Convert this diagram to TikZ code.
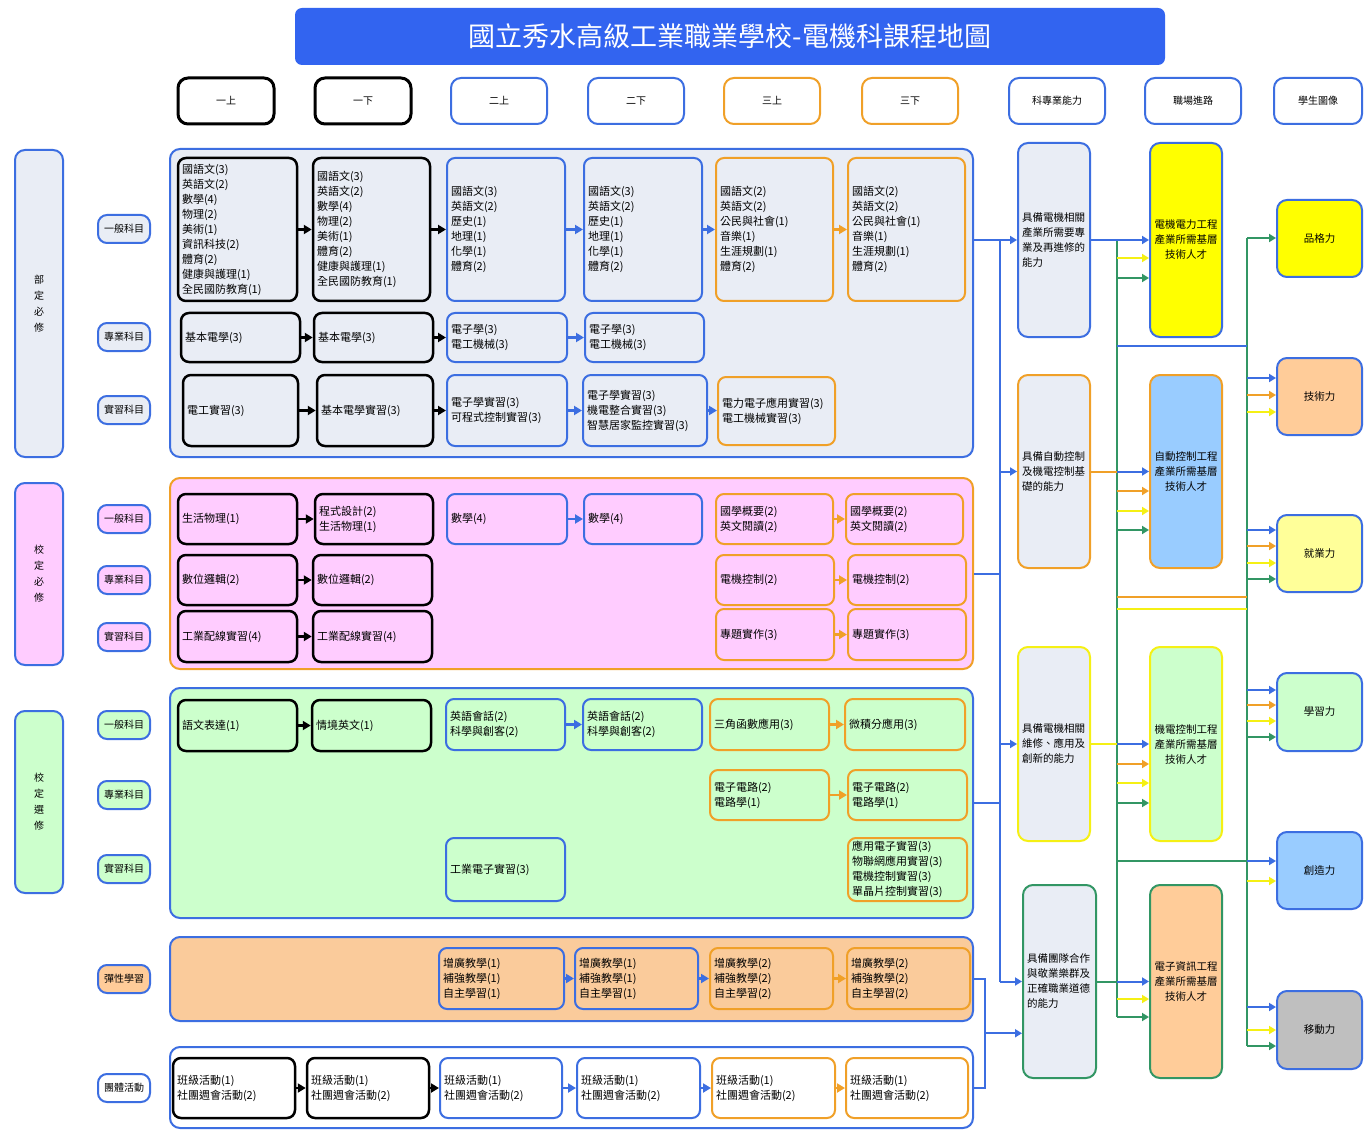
\documentclass[tikz,border=0pt]{standalone}
\usepackage{fontspec}
\setmainfont{Noto Sans CJK TC}
\usetikzlibrary{arrows.meta,calc}
\definecolor{cblue}{RGB}{60,110,225}
\definecolor{ctitle}{RGB}{50,100,240}
\definecolor{corange}{RGB}{240,160,40}
\definecolor{cyellow}{RGB}{245,240,20}
\definecolor{cgreen}{RGB}{50,150,100}
\definecolor{fgray}{RGB}{233,237,245}
\definecolor{fpink}{RGB}{255,204,255}
\definecolor{fgreen}{RGB}{204,255,204}
\definecolor{forange}{RGB}{250,203,155}
\definecolor{forangeb}{RGB}{255,204,153}
\definecolor{fyellow}{RGB}{255,255,0}
\definecolor{flyellow}{RGB}{255,255,153}
\definecolor{flblue}{RGB}{153,204,255}
\definecolor{fgrey}{RGB}{191,191,191}
\newcommand\myfs[2]{\fontsize{#1}{#2}\selectfont}
\newcommand\mkbox[7]{%
 \pgfmathsetmacro\myW{#5-#3}\pgfmathsetmacro\myH{#6-#4}%
 \pgfmathsetmacro\myX{(#3+#5)/2}\pgfmathsetmacro\myY{(#4+#6)/2}%
 \node[#2, minimum width=\myW pt, minimum height=\myH pt] (#1) at (\myX,\myY) {#7};}
\newcommand\mkcrs[7]{%
 \pgfmathsetmacro\myW{#5-#3-8}\pgfmathsetmacro\myH{#6-#4}%
 \pgfmathsetmacro\myX{(#3+#5)/2}\pgfmathsetmacro\myY{(#4+#6)/2}%
 \node[#2, text width=\myW pt, minimum height=\myH pt, inner xsep=4pt] (#1) at (\myX,\myY) {#7};}
\newcommand\fb[4]{\draw[#1] (#2 |- 0,#4) -- (#3.west |- 0,#4);}
\tikzset{
 crs/.style={rounded corners=8pt, align=left, font=\myfs{11}{15}, inner ysep=2pt},
 kc/.style={crs, draw=black, line width=2.5pt},
 bc/.style={crs, draw=cblue, line width=2pt},
 oc/.style={crs, draw=corange, line width=2pt},
 pnl/.style={rounded corners=10pt, line width=2pt},
 grp/.style={draw=cblue, line width=2pt, rounded corners=10pt, align=center, font=\myfs{10}{16}},
 lab/.style={draw=cblue, line width=2pt, rounded corners=9pt, font=\myfs{10}{12}, inner sep=1pt},
 hdr/.style={rounded corners=10pt, line width=2pt, fill=white, font=\myfs{10}{12}},
 abl/.style={rounded corners=10pt, line width=2pt, fill=fgray, align=left, font=\myfs{10.5}{15}, inner ysep=2pt},
 car/.style={rounded corners=10pt, line width=2pt, align=center, font=\myfs{10.5}{15}},
 simg/.style={rounded corners=10pt, line width=2pt, draw=cblue, font=\myfs{10.5}{13}},
 kA/.style={draw=black, line width=2.5pt, -{Triangle[length=8pt,width=9pt]}},
 bA/.style={draw=cblue, line width=2.2pt, -{Triangle[length=8pt,width=9pt]}},
 oA/.style={draw=corange, line width=2.2pt, -{Triangle[length=8pt,width=9pt]}},
 bL/.style={draw=cblue, line width=2pt},
 oL/.style={draw=corange, line width=2pt},
 yL/.style={draw=cyellow, line width=2pt},
 gL/.style={draw=cgreen, line width=2pt},
 bC/.style={bL, -{Triangle[length=7pt,width=8pt]}},
 oC/.style={oL, -{Triangle[length=7pt,width=8pt]}},
 yC/.style={yL, -{Triangle[length=7pt,width=8pt]}},
 gC/.style={gL, -{Triangle[length=7pt,width=8pt]}},
}
\begin{document}
\begin{tikzpicture}[x=1pt,y=-1pt]
\useasboundingbox[fill=white] (0,0) rectangle (1364,1131);
% title
\mkbox{title}{fill=ctitle, rounded corners=7pt, text=white, font=\myfs{27}{30}}{295}{8}{1165}{65}{國立秀水高級工業職業學校-電機科課程地圖}
% headers
\mkbox{h1}{hdr, draw=black, line width=3pt}{178}{78}{274}{124}{一上}
\mkbox{h2}{hdr, draw=black, line width=3pt}{315}{78}{411}{124}{一下}
\mkbox{h3}{hdr, draw=cblue}{451}{78}{547}{124}{二上}
\mkbox{h4}{hdr, draw=cblue}{588}{78}{684}{124}{二下}
\mkbox{h5}{hdr, draw=corange}{724}{78}{820}{124}{三上}
\mkbox{h6}{hdr, draw=corange}{862}{78}{958}{124}{三下}
\mkbox{h7}{hdr, draw=cblue}{1009}{78}{1105}{124}{科專業能力}
\mkbox{h8}{hdr, draw=cblue}{1145}{78}{1241}{124}{職場進路}
\mkbox{h9}{hdr, draw=cblue}{1274}{78}{1362}{124}{學生圖像}
% left groups
\mkbox{g1}{grp, fill=fgray}{15}{150}{63}{457}{部\\定\\必\\修}
\mkbox{g2}{grp, fill=fpink}{15}{483}{63}{665}{校\\定\\必\\修}
\mkbox{g3}{grp, fill=fgreen}{15}{711}{63}{893}{校\\定\\選\\修}
% labels
\mkbox{l1}{lab, fill=fgray}{98}{215}{150}{243}{一般科目}
\mkbox{l2}{lab, fill=fgray}{98}{323}{150}{351}{專業科目}
\mkbox{l3}{lab, fill=fgray}{98}{396}{150}{424}{實習科目}
\mkbox{l4}{lab, fill=fpink}{98}{505}{150}{533}{一般科目}
\mkbox{l5}{lab, fill=fpink}{98}{566}{150}{594}{專業科目}
\mkbox{l6}{lab, fill=fpink}{98}{623}{150}{651}{實習科目}
\mkbox{l7}{lab, fill=fgreen}{98}{711}{150}{739}{一般科目}
\mkbox{l8}{lab, fill=fgreen}{98}{781}{150}{809}{專業科目}
\mkbox{l9}{lab, fill=fgreen}{98}{855}{150}{883}{實習科目}
\mkbox{l10}{lab, fill=forangeb}{98}{965}{150}{993}{彈性學習}
\mkbox{l11}{lab, fill=white}{98}{1074}{150}{1102}{團體活動}
% panels
\mkbox{P1}{pnl, fill=fgray, draw=cblue}{170}{149}{973}{457}{}
\mkbox{P2}{pnl, fill=fpink, draw=corange}{170}{478}{973}{669}{}
\mkbox{P3}{pnl, fill=fgreen, draw=cblue}{170}{688}{973}{918}{}
\mkbox{P4}{pnl, fill=forange, draw=cblue}{170}{937}{973}{1021}{}
\mkbox{P5}{pnl, fill=white, draw=cblue}{170}{1047}{973}{1128}{}
% panel 1
\mkcrs{a11}{kc}{178}{158}{297}{301}{國語文(3)\\英語文(2)\\數學(4)\\物理(2)\\美術(1)\\資訊科技(2)\\體育(2)\\健康與護理(1)\\全民國防教育(1)}
\mkcrs{a12}{kc}{313}{158}{430}{301}{國語文(3)\\英語文(2)\\數學(4)\\物理(2)\\美術(1)\\體育(2)\\健康與護理(1)\\全民國防教育(1)}
\mkcrs{a13}{bc}{447}{158}{565}{301}{國語文(3)\\英語文(2)\\歷史(1)\\地理(1)\\化學(1)\\體育(2)}
\mkcrs{a14}{bc}{584}{158}{702}{301}{國語文(3)\\英語文(2)\\歷史(1)\\地理(1)\\化學(1)\\體育(2)}
\mkcrs{a15}{oc}{716}{158}{833}{301}{國語文(2)\\英語文(2)\\公民與社會(1)\\音樂(1)\\生涯規劃(1)\\體育(2)}
\mkcrs{a16}{oc}{848}{158}{965}{301}{國語文(2)\\英語文(2)\\公民與社會(1)\\音樂(1)\\生涯規劃(1)\\體育(2)}
\mkcrs{a21}{kc}{181}{313}{300}{362}{基本電學(3)}
\mkcrs{a22}{kc}{314}{313}{433}{362}{基本電學(3)}
\mkcrs{a23}{bc}{447}{313}{567}{362}{電子學(3)\\電工機械(3)}
\mkcrs{a24}{bc}{585}{313}{704}{362}{電子學(3)\\電工機械(3)}
\mkcrs{a31}{kc}{183}{375}{298}{446}{電工實習(3)}
\mkcrs{a32}{kc}{317}{375}{433}{446}{基本電學實習(3)}
\mkcrs{a33}{bc}{447}{375}{567}{446}{電子學實習(3)\\可程式控制實習(3)}
\mkcrs{a34}{bc}{583}{375}{707}{446}{電子學實習(3)\\機電整合實習(3)\\智慧居家監控實習(3)}
\mkcrs{a35}{oc}{718}{377}{835}{445}{電力電子應用實習(3)\\電工機械實習(3)}
% panel 2
\mkcrs{b11}{kc}{178}{494}{297}{544}{生活物理(1)}
\mkcrs{b12}{kc}{315}{494}{433}{544}{程式設計(2)\\生活物理(1)}
\mkcrs{b13}{bc}{447}{494}{567}{544}{數學(4)}
\mkcrs{b14}{bc}{584}{494}{702}{544}{數學(4)}
\mkcrs{b15}{oc}{716}{494}{833}{544}{國學概要(2)\\英文閱讀(2)}
\mkcrs{b16}{oc}{846}{494}{963}{544}{國學概要(2)\\英文閱讀(2)}
\mkcrs{b21}{kc}{178}{555}{297}{605}{數位邏輯(2)}
\mkcrs{b22}{kc}{313}{555}{432}{605}{數位邏輯(2)}
\mkcrs{b25}{oc}{716}{555}{834}{605}{電機控制(2)}
\mkcrs{b26}{oc}{848}{555}{966}{605}{電機控制(2)}
\mkcrs{b31}{kc}{178}{611}{297}{662}{工業配線實習(4)}
\mkcrs{b32}{kc}{313}{611}{432}{662}{工業配線實習(4)}
\mkcrs{b35}{oc}{716}{609}{834}{660}{專題實作(3)}
\mkcrs{b36}{oc}{848}{609}{966}{660}{專題實作(3)}
% panel 3
\mkcrs{c11}{kc}{178}{700}{297}{751}{語文表達(1)}
\mkcrs{c12}{kc}{312}{700}{431}{751}{情境英文(1)}
\mkcrs{c13}{bc}{446}{699}{565}{750}{英語會話(2)\\科學與創客(2)}
\mkcrs{c14}{bc}{583}{699}{702}{750}{英語會話(2)\\科學與創客(2)}
\mkcrs{c15}{oc}{710}{699}{829}{750}{三角函數應用(3)}
\mkcrs{c16}{oc}{845}{699}{965}{750}{微積分應用(3)}
\mkcrs{c25}{oc}{710}{770}{829}{820}{電子電路(2)\\電路學(1)}
\mkcrs{c26}{oc}{848}{770}{967}{820}{電子電路(2)\\電路學(1)}
\mkcrs{c33}{bc}{446}{838}{565}{901}{工業電子實習(3)}
\mkcrs{c36}{oc}{848}{838}{967}{901}{應用電子實習(3)\\物聯網應用實習(3)\\電機控制實習(3)\\單晶片控制實習(3)}
% panel 4
\mkcrs{d3}{bc}{439}{948}{564}{1009}{增廣教學(1)\\補強教學(1)\\自主學習(1)}
\mkcrs{d4}{bc}{575}{948}{698}{1009}{增廣教學(1)\\補強教學(1)\\自主學習(1)}
\mkcrs{d5}{oc}{710}{948}{833}{1009}{增廣教學(2)\\補強教學(2)\\自主學習(2)}
\mkcrs{d6}{oc}{847}{948}{970}{1009}{增廣教學(2)\\補強教學(2)\\自主學習(2)}
% panel 5
\mkcrs{e1}{kc}{173}{1058}{295}{1118}{班級活動(1)\\社團週會活動(2)}
\mkcrs{e2}{kc}{307}{1058}{429}{1118}{班級活動(1)\\社團週會活動(2)}
\mkcrs{e3}{bc}{440}{1058}{562}{1118}{班級活動(1)\\社團週會活動(2)}
\mkcrs{e4}{bc}{577}{1058}{700}{1118}{班級活動(1)\\社團週會活動(2)}
\mkcrs{e5}{oc}{712}{1058}{835}{1118}{班級活動(1)\\社團週會活動(2)}
\mkcrs{e6}{oc}{846}{1058}{968}{1118}{班級活動(1)\\社團週會活動(2)}
% course arrows
\draw[kA] (a11) -- (a12); \draw[kA] (a12) -- (a13); \draw[bA] (a13) -- (a14); \draw[bA] (a14) -- (a15); \draw[oA] (a15) -- (a16);
\draw[kA] (a21) -- (a22); \draw[kA] (a22) -- (a23); \draw[bA] (a23) -- (a24);
\draw[kA] (a31) -- (a32); \draw[kA] (a32) -- (a33); \draw[bA] (a33) -- (a34); \draw[bA] (a34.east) -- (a35.west |- a34.east);
\draw[kA] (b11) -- (b12); \draw[bA] (b13) -- (b14); \draw[oA] (b15) -- (b16);
\draw[kA] (b21) -- (b22); \draw[oA] (b25) -- (b26);
\draw[kA] (b31) -- (b32); \draw[oA] (b35) -- (b36);
\draw[kA] (c11.east) -- (c12.west |- c11.east); \draw[bA] (c13) -- (c14); \draw[oA] (c15) -- (c16);
\draw[oA] (c25) -- (c26);
\draw[bA] (d3) -- (d4); \draw[bA] (d4) -- (d5); \draw[oA] (d5) -- (d6);
\draw[kA] (e1) -- (e2); \draw[kA] (e2) -- (e3); \draw[bA] (e3) -- (e4); \draw[bA] (e4) -- (e5); \draw[oA] (e5) -- (e6);
% abilities
\mkcrs{A1}{abl, draw=cblue}{1018}{143}{1090}{337}{具備電機相關\\產業所需要專\\業及再進修的\\能力}
\mkcrs{A2}{abl, draw=corange}{1018}{375}{1090}{568}{具備自動控制\\及機電控制基\\礎的能力}
\mkcrs{A3}{abl, draw=cyellow}{1018}{647}{1090}{841}{具備電機相關\\維修、應用及\\創新的能力}
\mkcrs{A4}{abl, draw=cgreen}{1023}{885}{1096}{1078}{具備團隊合作\\與敬業樂群及\\正確職業道德\\的能力}
% careers
\mkbox{B1}{car, fill=fyellow, draw=cblue}{1150}{143}{1222}{337}{電機電力工程\\產業所需基層\\技術人才}
\mkbox{B2}{car, fill=flblue, draw=corange}{1150}{375}{1222}{568}{自動控制工程\\產業所需基層\\技術人才}
\mkbox{B3}{car, fill=fgreen, draw=cyellow}{1150}{647}{1222}{841}{機電控制工程\\產業所需基層\\技術人才}
\mkbox{B4}{car, fill=forangeb, draw=cgreen}{1150}{885}{1222}{1078}{電子資訊工程\\產業所需基層\\技術人才}
% student image
\mkbox{S1}{simg, fill=fyellow}{1277}{200}{1362}{277}{品格力}
\mkbox{S2}{simg, fill=forangeb}{1277}{358}{1362}{435}{技術力}
\mkbox{S3}{simg, fill=flyellow}{1277}{515}{1362}{592}{就業力}
\mkbox{S4}{simg, fill=fgreen}{1277}{673}{1362}{751}{學習力}
\mkbox{S5}{simg, fill=flblue}{1277}{832}{1362}{909}{創造力}
\mkbox{S6}{simg, fill=fgrey}{1277}{991}{1362}{1069}{移動力}
% bus coordinates
\coordinate (busL) at (1000,0);
\coordinate (busP) at (985,0);
\coordinate (busM) at (1117,0);
\coordinate (busR) at (1247,0);
% panels -> abilities
\draw[bL] (busL |- A1.west) -- (busL |- A4.west);
\draw[bC] (P1.east |- A1.west) -- (A1.west);
\draw[bC] (busL |- A2.west) -- (A2.west);
\draw[bL] (P2.east) -- (busL |- P2.east);
\draw[bC] (busL |- A3.west) -- (A3.west);
\draw[bL] (P3.east) -- (busL |- P3.east);
\draw[bC] (busL |- A4.west) -- (A4.west);
\draw[bL] (P4.east) -- (busP |- P4.east) -- (busP |- P5.east) -- (P5.east);
\coordinate (j45) at ($(busP |- P4.east)!0.5!(busP |- P5.east)$);
\draw[bC] (j45) -- (A4.west |- j45);
% middle bus
\draw[gL] (busM |- 0,240) -- (busM |- 0,1017);
\draw[gL] (busR |- 0,238) -- (busR |- 0,1046);
\draw[bC] (A1.east) -- (B1.west);
\fb{yC}{busM}{B1}{258}
\fb{gC}{busM}{B1}{278}
\draw[bL] (busM |- 0,346) -- (busR |- 0,346);
\draw[oL] (A2.east) -- (busM |- A2.east);
\draw[bC] (busM |- A2.east) -- (B2.west);
\fb{oC}{busM}{B2}{491}
\fb{yC}{busM}{B2}{511}
\fb{gC}{busM}{B2}{530}
\draw[oL] (busM |- 0,597) -- (busR |- 0,597);
\draw[yL] (busM |- 0,609) -- (busR |- 0,609);
\draw[yL] (A3.east) -- (busM |- A3.east);
\draw[bC] (busM |- A3.east) -- (B3.west);
\fb{oC}{busM}{B3}{764}
\fb{yC}{busM}{B3}{783}
\fb{gC}{busM}{B3}{803}
\draw[gL] (busM |- 0,861) -- (busR |- 0,861);
\draw[gL] (A4.east) -- (busM |- A4.east);
\draw[bC] (busM |- A4.east) -- (B4.west);
\fb{yC}{busM}{B4}{999}
\fb{gC}{busM}{B4}{1017}
% right bus -> student image
\fb{gC}{busR}{S1}{238}
\fb{bC}{busR}{S2}{378}
\fb{oC}{busR}{S2}{395}
\fb{yC}{busR}{S2}{412}
\fb{bC}{busR}{S3}{530}
\fb{oC}{busR}{S3}{546}
\fb{yC}{busR}{S3}{563}
\fb{gC}{busR}{S3}{579}
\fb{bC}{busR}{S4}{690}
\fb{oC}{busR}{S4}{705}
\fb{yC}{busR}{S4}{721}
\fb{gC}{busR}{S4}{737}
\fb{bC}{busR}{S5}{861}
\fb{yC}{busR}{S5}{881}
\fb{bC}{busR}{S6}{1007}
\fb{yC}{busR}{S6}{1030}
\fb{gC}{busR}{S6}{1046}
\end{tikzpicture}
\end{document}
